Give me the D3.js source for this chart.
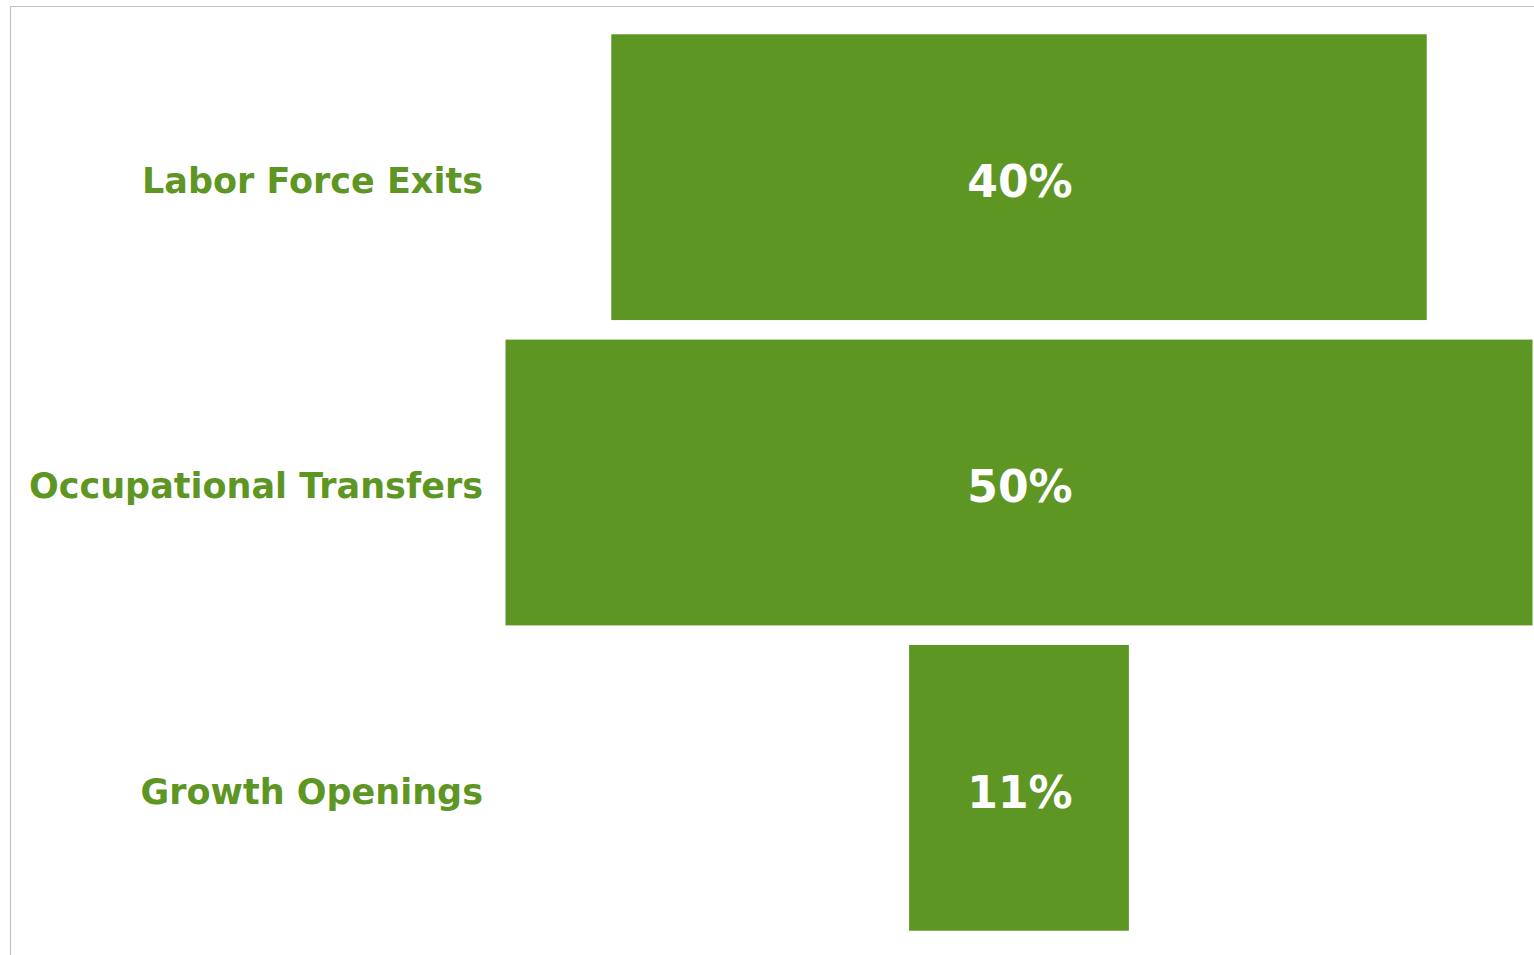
<html>
<head>
<script src="https://d3js.org/d3.v7.min.js"></script>
<style>
  body { margin: 0; background: #fff; }
  svg { display: block; }
  .cat, .val { font-family: "DejaVu Sans", sans-serif; font-weight: 700; }
</style>
</head>
<body>
<svg width="1534" height="955"></svg>
<script>
// funnel stages, top to bottom
var stages = ["Labor Force Exits", "Occupational Transfers", "Growth Openings"];
var shares = [0.397, 0.500, 0.107];

var green = "#5e9624";
var svg = d3.select("svg");

// frame lines of the visual
svg.append("line").attr("x1", 10).attr("x2", 1534).attr("y1", 6.5).attr("y2", 6.5)
  .attr("stroke", "#c4c4c4").attr("stroke-width", 1.2);
svg.append("line").attr("x1", 10.5).attr("x2", 10.5).attr("y1", 6).attr("y2", 955)
  .attr("stroke", "#c4c4c4").attr("stroke-width", 1.2);

var centre = 1019;
var data = stages.map(function(s, i) { return {stage: s, share: shares[i]}; });

var y = d3.scaleBand().domain(stages).range([24.5, 940.5]).paddingInner(0.064).paddingOuter(0.032);
// bar width, bars are centred on the funnel axis
var w = d3.scaleLinear().domain([0, d3.max(shares)]).range([0, 1027]);

var g = svg.append("g");

g.selectAll("rect").data(data).enter().append("rect")
  .attr("x", function(d) { return centre - w(d.share) / 2; })
  .attr("y", function(d) { return y(d.stage); })
  .attr("width", function(d) { return w(d.share); })
  .attr("height", y.bandwidth())
  .attr("fill", green);

var fmt = d3.format(".0%");

g.selectAll(".val").data(data).enter().append("text")
  .attr("class", "val")
  .attr("x", centre + 1)
  .attr("y", function(d) { return y(d.stage) + y.bandwidth() / 2; })
  .attr("dy", "0.45em")
  .attr("text-anchor", "middle")
  .attr("font-size", 44)
  .attr("fill", "#fff")
  .text(function(d) { return fmt(d.share); });

g.selectAll(".cat").data(data).enter().append("text")
  .attr("class", "cat")
  .attr("x", 483)
  .attr("y", function(d) { return y(d.stage) + y.bandwidth() / 2; })
  .attr("dy", "0.45em")
  .attr("text-anchor", "end")
  .attr("font-size", 35)
  .attr("fill", green)
  .text(function(d) { return d.stage; });
</script>
</body>
</html>
